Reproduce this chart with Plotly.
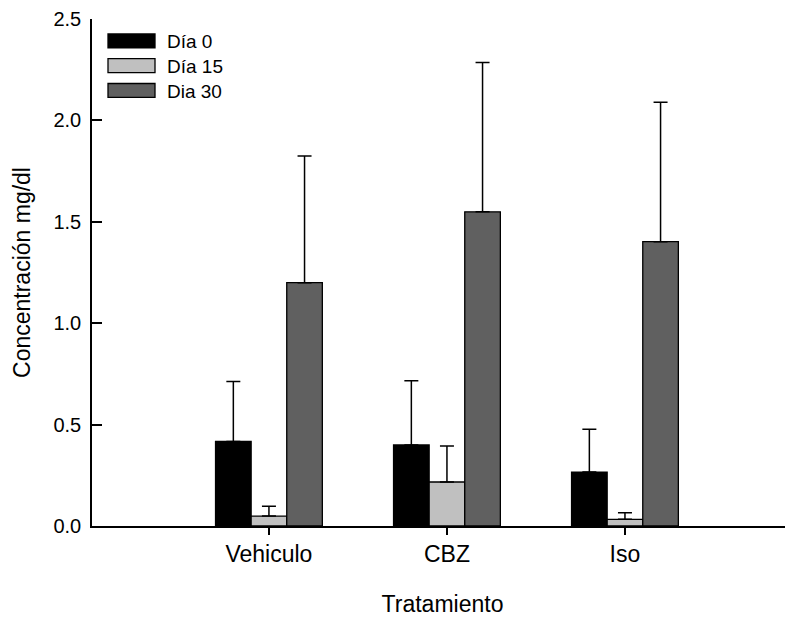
import plotly.graph_objects as go

categories = ["Vehiculo", "CBZ", "Iso"]
series_names = ["Día 0", "Día 15", "Dia 30"]
dia0 = [0.417, 0.400, 0.266]
dia0_err = [0.295, 0.316, 0.211]
dia15 = [0.049, 0.217, 0.033]
dia15_err = [0.049, 0.177, 0.032]
dia30 = [1.200, 1.549, 1.402]
dia30_err = [0.624, 0.737, 0.688]
colors = ["#000000", "#c0c0c0", "#606060"]
y_ticks = [0.0, 0.5, 1.0, 1.5, 2.0, 2.5]

FONT = "Arial, 'Liberation Sans', sans-serif"

values = [dia0, dia15, dia30]
errors = [dia0_err, dia15_err, dia30_err]

# page has an 8px body margin; work in page pixels and shift
OFF = 8
FIG_W, FIG_H = 793 - OFF, 618 - OFF
L, R, T, B = 92 - OFF, 793 - OFF, 15 - OFF, 526 - OFF
W, H = R - L, B - T


def px(x):
    return (x - OFF - L) / W


def py(y):
    return (B - (y - OFF)) / H


fig = go.Figure()
for name, vals, errs, col in zip(series_names, values, errors, colors):
    fig.add_trace(go.Bar(
        x=categories, y=vals, name=name,
        marker=dict(color=col, line=dict(color="#000000", width=1.3)),
        error_y=dict(type="data", array=errs, arrayminus=[0] * len(errs),
                     symmetric=False, color="#000000", thickness=1.5, width=7),
        showlegend=False,
    ))

# custom legend (wide swatches like the reference)
for i, (name, col) in enumerate(zip(series_names, colors)):
    cy = 37 + 25 * i
    fig.add_shape(type="rect", xref="paper", yref="paper",
                  x0=px(108), x1=px(155), y0=py(cy + 7), y1=py(cy - 7),
                  fillcolor=col, line=dict(color="#000000", width=1.3))
    fig.add_annotation(xref="paper", yref="paper", x=px(165), y=py(cy + 1),
                       text=name, showarrow=False, xanchor="left", yanchor="middle",
                       font=dict(family=FONT, size=19, color="#000000"))

fig.update_layout(
    width=FIG_W, height=FIG_H,
    margin=dict(l=L, r=FIG_W - R, t=T, b=FIG_H - B),
    paper_bgcolor="white", plot_bgcolor="white",
    barmode="group", bargap=0.4, bargroupgap=0,
    font=dict(family=FONT, size=20, color="#000000"),
)
fig.update_xaxes(
    range=[-0.994, 2.944], showline=True, linecolor="#000000", linewidth=1.5,
    ticks="outside", ticklen=7, tickwidth=1.5, tickcolor="#000000",
    showgrid=False, zeroline=False,
    tickfont=dict(family=FONT, size=23),
    title=dict(text="Tratamiento", font=dict(family=FONT, size=23), standoff=30),
)
fig.update_yaxes(
    range=[0, 2.5], tickvals=y_ticks, tickformat=".1f",
    showline=True, linecolor="#000000", linewidth=1.5,
    ticks="inside", ticklen=10, tickwidth=1.5, tickcolor="#000000",
    showgrid=False, zeroline=False, ticklabelstandoff=5,
    ticklabeloverflow="allow",
    tickfont=dict(family=FONT, size=20),
    title=dict(text="Concentración mg/dl", font=dict(family=FONT, size=23), standoff=16),
)

fig.write_html("out.html")
